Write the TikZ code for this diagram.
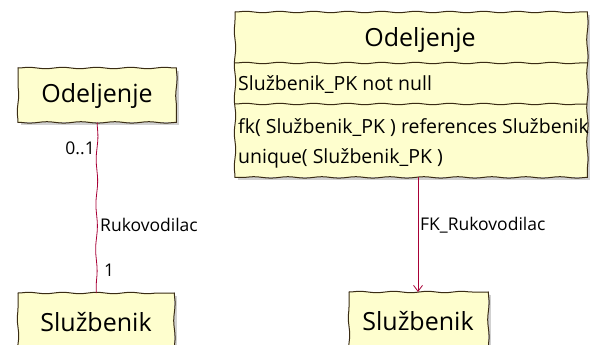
\documentclass[tikz,border=0pt]{standalone}
\usepackage{fontspec}
\setmainfont{Open Sans}
\usetikzlibrary{arrows.meta,decorations.pathmorphing,shadows}
\definecolor{classfill}{HTML}{FEFECE}
\definecolor{classline}{HTML}{3A2C14}
\definecolor{assoc}{HTML}{A80036}
% outline a box node with four slightly wavy sides
\newcommand\handbox[1]{%
  \draw[edge] (#1.north west) -- (#1.north east);
  \draw[edge] (#1.north east) -- (#1.south east);
  \draw[edge] (#1.south east) -- (#1.south west);
  \draw[edge] (#1.south west) -- (#1.north west);}
\begin{document}
\begin{tikzpicture}[x=1pt,y=1pt,
  wavy/.style={decorate,decoration={snake,segment length=34pt,amplitude=0.7pt}},
  classbox/.style={fill=classfill,
    drop shadow={shadow xshift=3pt,shadow yshift=-3pt,fill=black!40,opacity=0.45},
    inner sep=0pt,anchor=north west},
  edge/.style={draw=classline,line width=1pt,line cap=round,wavy},
  title/.style={font=\fontsize{25}{28}\selectfont,text=black},
  attr/.style={font=\fontsize{19.5}{22}\selectfont,text=black,anchor=west,inner sep=0pt},
  lbl/.style={font=\fontsize{17.5}{20}\selectfont,text=black,inner sep=0pt},
  conn/.style={draw=assoc,line width=0.8pt}]
\useasboundingbox (0,0) rectangle (592,-345);

% association: Odeljenje -- Sluzbenik
\node[classbox,minimum width=158pt,minimum height=54pt] (lodel) at (18,-68) {};
\handbox{lodel}
\node[title] (lodelt) at (97,-96) {Odeljenje};
\node[classbox,minimum width=156pt,minimum height=70pt] (lsluz) at (18,-293) {};
\handbox{lsluz}
\node[title] (lsluzt) at (96,-322) {Službenik};
\draw[conn,decorate,decoration={snake,segment length=45pt,amplitude=0.8pt}]
  (lodel.south) -- (lsluz.north);
\node[lbl,anchor=east] (m01) at (95,-148) {0..1};
\node[lbl,anchor=west] (rname) at (100,-225) {Rukovodilac};
\node[lbl,anchor=west] (m1) at (104,-270) {1};

% relational table with its constraints
\node[classbox,minimum width=352pt,minimum height=165pt] (rodel) at (235,-12) {};
\handbox{rodel}
\node[title] (rodelt) at (420,-40) {Odeljenje};
\draw[edge] (235,-63) -- (587,-63);
\draw[edge] (235,-104) -- (587,-104);
\node[attr] (a1) at (238,-85) {Službenik\_PK not null};
\node[attr] (c1) at (238,-128) {fk( Službenik\_PK ) references Službenik};
\node[attr] (c2) at (238,-158) {unique( Službenik\_PK )};
\node[classbox,minimum width=139pt,minimum height=70pt] (rsluz) at (349,-292) {};
\handbox{rsluz}
\node[title] (rsluzt) at (418,-321) {Službenik};
\coordinate (fkstart) at (418,-177);
\coordinate (fkend) at (418,-292);
\draw[conn,-{Straight Barb[length=6pt,width=9pt]}] (fkstart) -- (fkend);
\node[lbl,anchor=west] (fkname) at (420,-225) {FK\_Rukovodilac};
\end{tikzpicture}
\end{document}
